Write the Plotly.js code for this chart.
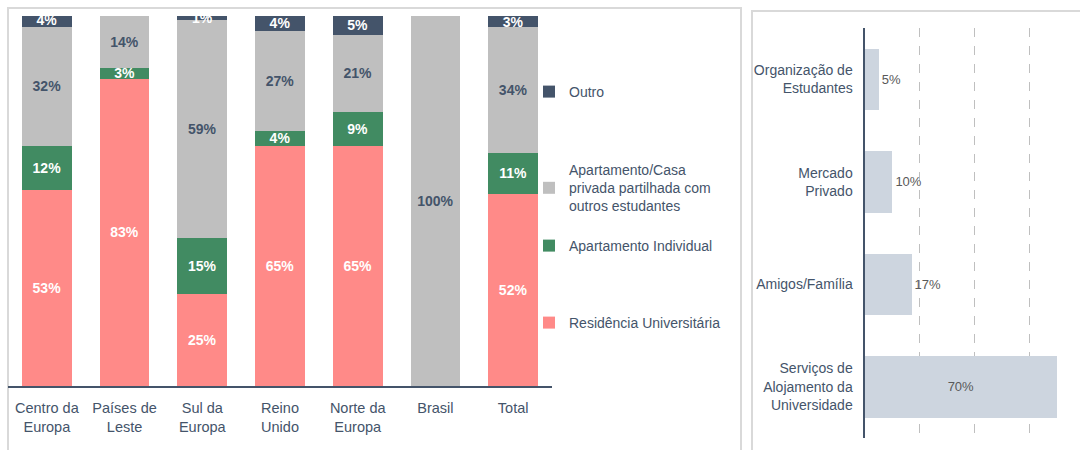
<!DOCTYPE html>
<html>
<head>
<meta charset="utf-8">
<script src="https://cdn.plot.ly/plotly-3.0.1.min.js"></script>
<style>html,body{margin:0;padding:0;background:#fff;}#chart{width:1080px;height:450px;}</style>
</head>
<body>
<div id="chart"></div>
<script>
// ---- Left chart data (stacked %) ----
var regions = ["Centro da<br>Europa", "Países de<br>Leste", "Sul da<br>Europa", "Reino<br>Unido", "Norte da<br>Europa", "Brasil", "Total"];
var residencia = [53, 83, 25, 65, 65, 0, 52];
var aptIndividual = [12, 3, 15, 4, 9, 0, 11];
var aptPartilhado = [32, 14, 59, 27, 21, 100, 34];
var outro = [4, 0, 1, 4, 5, 0, 3];
var seriesNames = ["Residência Universitária", "Apartamento Individual", "Apartamento/Casa<br>privada partilhada com<br>outros estudantes", "Outro"];

// ---- Right chart data ----
var sources = ["Organização de<br>Estudantes", "Mercado<br>Privado", "Amigos/Família", "Serviços de<br>Alojamento da<br>Universidade"];
var sourceValues = [5, 10, 17, 70];

var FONT = "Liberation Sans, Arial, sans-serif";
var SLATE = "#44546A";
var W = 1080, H = 450;
function px(x){return x / W;}
function py(y){return 1 - y / H;}

function labels(arr){return arr.map(function(v){return v > 0 ? v + "%" : "";});}

function stackTrace(vals, name, color, txtColor, legendId){
  return {
    type: "bar", x: regions, y: vals, name: name,
    marker: {color: color},
    text: labels(vals), texttemplate: "%{text}",
    textposition: "inside", insidetextanchor: "middle", constraintext: "none",
    textfont: {family: FONT, size: 14, color: txtColor, weight: "bold"},
    hoverinfo: "skip", xaxis: "x", yaxis: "y", legend: legendId
  };
}

var traces = [
  stackTrace(residencia, seriesNames[0], "#FF8A88", "#FFFFFF", "legend4"),
  stackTrace(aptIndividual, seriesNames[1], "#418B62", "#FFFFFF", "legend3"),
  stackTrace(aptPartilhado, seriesNames[2], "#BFBFBF", SLATE, "legend2"),
  stackTrace(outro, seriesNames[3], SLATE, "#FFFFFF", "legend"),
  {
    type: "bar", orientation: "h", y: sources, x: sourceValues,
    marker: {color: "#CDD5DF"}, width: 0.6,
    text: sourceValues.map(function(v){return v + "%";}), texttemplate: "%{text}",
    textposition: sourceValues.map(function(v){return v > 40 ? "inside" : "outside";}),
    insidetextanchor: "middle", constraintext: "none", cliponaxis: false,
    textfont: {family: FONT, size: 13, color: "#595959"},
    showlegend: false, hoverinfo: "skip", xaxis: "x2", yaxis: "y2"
  }
];

function legendAt(yc){
  return {x: px(529), y: py(yc), xanchor: "left", yanchor: "middle",
    font: {family: FONT, size: 14, color: SLATE}, bgcolor: "rgba(0,0,0,0)",
    borderwidth: 0, itemclick: false, itemdoubleclick: false};
}

var layout = {
  width: W, height: H,
  margin: {l: 0, r: 0, t: 0, b: 0},
  paper_bgcolor: "#FFFFFF", plot_bgcolor: "rgba(0,0,0,0)",
  barmode: "stack", bargap: 0.36,
  font: {family: FONT, color: SLATE},
  showlegend: true,
  legend: legendAt(92),
  legend2: legendAt(188),
  legend3: legendAt(246),
  legend4: legendAt(323),
  xaxis: {
    domain: [px(8), px(552)], anchor: "y",
    showline: true, linecolor: "#44546A", linewidth: 2,
    ticks: "", ticklabelstandoff: 8, showgrid: false, zeroline: false,
    tickfont: {family: FONT, size: 14.5, color: SLATE}, fixedrange: true
  },
  yaxis: {
    domain: [py(386), py(16)], anchor: "x",
    range: [0, 100], visible: false, showgrid: false, zeroline: false, fixedrange: true
  },
  xaxis2: {
    domain: [px(865), 1], anchor: "y2",
    range: [0, 78.5], dtick: 20, tick0: 0,
    showgrid: true, gridcolor: "#BFBFBF", griddash: "dash", gridwidth: 1,
    showticklabels: false, zeroline: false, showline: false, fixedrange: true
  },
  yaxis2: {
    domain: [py(438), py(28)], anchor: "x2",
    autorange: "reversed", showline: true, linecolor: SLATE, linewidth: 2.5,
    ticks: "", ticklabelstandoff: 7, showgrid: false, zeroline: false,
    tickfont: {family: FONT, size: 14, color: SLATE}, fixedrange: true
  },
  shapes: [
    {type: "rect", xref: "paper", yref: "paper", x0: px(8), x1: px(741), y0: -0.1, y1: py(8),
      line: {color: "#D9D9D9", width: 2}, fillcolor: "rgba(0,0,0,0)", layer: "below"},
    {type: "rect", xref: "paper", yref: "paper", x0: px(752), x1: 1.1, y0: -0.1, y1: py(11),
      line: {color: "#D9D9D9", width: 2}, fillcolor: "rgba(0,0,0,0)", layer: "below"}
  ]
};

Plotly.newPlot("chart", traces, layout, {displayModeBar: false, staticPlot: true});
</script>
</body>
</html>
